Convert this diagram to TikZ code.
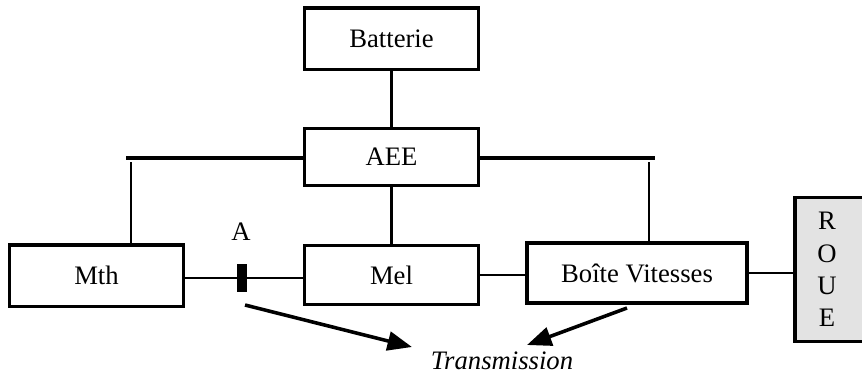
\documentclass[tikz,border=0pt]{standalone}
\usepackage{fontspec}
\setmainfont{Liberation Serif}
\usepackage{tikz}
\usetikzlibrary{positioning, arrows.meta}
\tikzset{
  unitbox/.style={
    draw, line width=1.4pt,
    inner sep=0pt, font=\fontsize{12}{14}\selectfont
  },
  link/.style={line width=1.2pt},
  bus/.style={line width=1.9pt},
  clutch/.style={fill=black, draw=black, inner sep=0pt,
    minimum width=4pt, minimum height=12.5pt},
  flow/.style={-{Triangle[length=11pt,width=8.5pt]}, line width=1.6pt},
}

\begin{document}
\begin{tikzpicture}[x=0.45pt, y=-0.45pt]
  \useasboundingbox (0,0) rectangle (862,376);

  \node[unitbox, minimum width=78pt, minimum height=27.5pt] (bat) at (391.5,38.5) {Batterie};
  \node[unitbox, minimum width=78pt, minimum height=26pt] (aee) at (391.5,157) {AEE};
  \node[unitbox, minimum width=78pt, minimum height=26.5pt] (mel) at (391.5,275) {Mel};
  \node[unitbox, minimum width=78pt, minimum height=27.5pt] (mth) at (96.5,275.5) {Mth};
  \node[unitbox, minimum width=99pt, minimum height=27pt] (bv) at (637,273) {Bo\^ite Vitesses};
  \node[unitbox, fill=gray!22, minimum width=50pt, minimum height=65pt] (roue) at (850.5,269.5) {};
  \node[align=center, font=\fontsize{12}{14.5}\selectfont] (roueTxt) at (827,269.5) {R\\O\\U\\E};

  \node[clutch] (clA) at (241.5,278) {};
  \node[font=\fontsize{12}{14}\selectfont] (lblA) at (241,232) {A};
  \node[font=\itshape\fontsize{12}{14}\selectfont] (trans) at (502,361) {Transmission};

  % bus lines from the AEE
  \coordinate (lbus) at (126,158);
  \coordinate (ldrop) at (131,162);
  \coordinate (rbus) at (655,158);
  \coordinate (rdrop) at (649,162);
  \draw[bus] (aee.west |- lbus) -- (lbus);
  \draw[bus] (aee.east |- rbus) -- (rbus);
  \draw[link] (ldrop) -- (ldrop |- mth.north);
  \draw[link] (rdrop) -- (rdrop |- bv.north);

  \draw[link] (bat) -- (aee);
  \draw[link] (aee) -- (mel);
  \draw[link] (mth.east |- clA) -- (clA);
  \draw[link] (clA) -- (mel.west |- clA);
  \draw[link] (mel.east) -- (bv.west |- mel.east);
  \draw[link] (bv.east) -- (roue.west |- bv.east);

  % arrows to the transmission label
  \coordinate (fromA) at (245,305);
  \coordinate (tipA) at (412,347);
  \coordinate (fromBV) at (627,308);
  \coordinate (tipBV) at (527,345);
  \draw[flow] (fromA) -- (tipA);
  \draw[flow] (fromBV) -- (tipBV);
\end{tikzpicture}
\end{document}
